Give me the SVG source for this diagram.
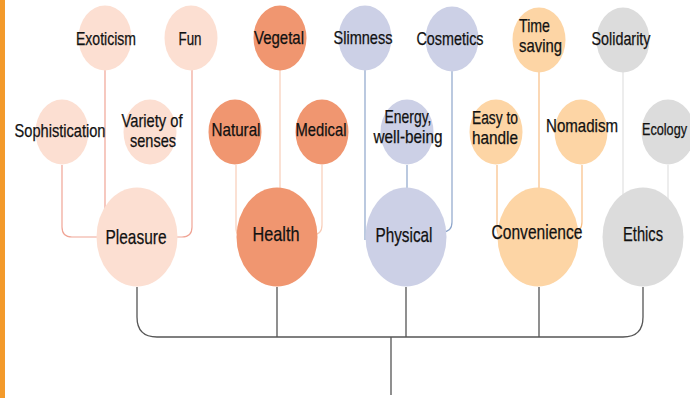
<svg xmlns="http://www.w3.org/2000/svg" width="690" height="398" viewBox="0 0 690 398">
<style>
text{font-family:"Liberation Sans",Arial,sans-serif;fill:#111;text-anchor:middle;stroke:#111;stroke-width:0.25}
.s{font-size:18.5px}
.b{font-size:21px}
.pl{fill:#fcdfd2}
.he{fill:#f09670}
.ph{fill:#ccd0e6}
.co{fill:#fdd5a5}
.et{fill:#dcdcdc}
.c{fill:none;stroke-width:1.2}
.cpl{stroke:#f0a596}
.che{stroke:#f8cdb8}
.cph{stroke:#8ea6cb}
.cco{stroke:#f8bf85}
.cet{stroke:#e2e2e2}
.tree{fill:none;stroke:#555;stroke-width:1.3}
</style>
<rect x="0" y="0" width="690" height="398" fill="#fff"/>
<rect x="0" y="0" width="5" height="398" fill="#f39a2b"/>
<g id="connectors">
<path class="tree" d="M137,287 V317 Q137,337 157,337 H623 Q643,337 643,317 V287 M277,287 V337 M406,287 V337 M539,287 V337 M391,337 V395"/>
<path class="c cpl" d="M62,165 V227 Q62,237 72,237 H110 M105,70 V210 M192,70 V227 Q192,237 182,237 H165"/>
<path class="c che" d="M236,165 V228 Q236,238 246,238 H260 M280,70 V200 M322,165 V225 Q322,235 312,235 H300"/>
<path class="c cph" d="M365,70 V240 M407,165 V200 M452,70 V222 Q452,232 442,232 H430"/>
<path class="c cco" d="M497,165 V228 Q497,238 507,238 H520 M539,72 V200 M582,165 V222 Q582,232 572,232 H560"/>
<path class="c cet" d="M623,72 V200 M668,165 V200"/>
</g>
<g id="pleasure"><ellipse class="pl" cx="137" cy="237" rx="40.5" ry="49.5"/><text class="b" x="136" y="244" textLength="61" lengthAdjust="spacingAndGlyphs">Pleasure</text></g>
<g id="health"><ellipse class="he" cx="277" cy="237" rx="40.5" ry="49.5"/><text class="b" x="276" y="241" textLength="47" lengthAdjust="spacingAndGlyphs">Health</text></g>
<g id="physical"><ellipse class="ph" cx="406" cy="237" rx="40.5" ry="49.5"/><text class="b" x="404" y="242" textLength="57" lengthAdjust="spacingAndGlyphs">Physical</text></g>
<g id="convenience"><ellipse class="co" cx="538" cy="237" rx="40.5" ry="49.5"/><text class="b" x="537" y="239" textLength="91" lengthAdjust="spacingAndGlyphs">Convenience</text></g>
<g id="ethics"><ellipse class="et" cx="643" cy="237" rx="40.5" ry="49.5"/><text class="b" x="643" y="241" textLength="40" lengthAdjust="spacingAndGlyphs">Ethics</text></g>
<g id="exoticism"><ellipse class="pl" cx="105" cy="38" rx="26.5" ry="32.5"/><text class="s" x="106" y="45" textLength="60" lengthAdjust="spacingAndGlyphs">Exoticism</text></g>
<g id="fun"><ellipse class="pl" cx="191" cy="38" rx="26.5" ry="32.5"/><text class="s" x="190" y="45" textLength="23" lengthAdjust="spacingAndGlyphs">Fun</text></g>
<g id="vegetal"><ellipse class="he" cx="280" cy="38" rx="26.5" ry="32.5"/><text class="s" x="279" y="44" textLength="50" lengthAdjust="spacingAndGlyphs">Vegetal</text></g>
<g id="slimness"><ellipse class="ph" cx="365" cy="38" rx="26.5" ry="32.5"/><text class="s" x="363" y="44" textLength="59" lengthAdjust="spacingAndGlyphs">Slimness</text></g>
<g id="cosmetics"><ellipse class="ph" cx="452" cy="39" rx="26.5" ry="32.5"/><text class="s" x="450" y="45" textLength="67" lengthAdjust="spacingAndGlyphs">Cosmetics</text></g>
<g id="timesaving"><ellipse class="co" cx="539" cy="40" rx="26.5" ry="32.5"/><text class="s" x="519" y="32" style="text-anchor:start" textLength="31" lengthAdjust="spacingAndGlyphs">Time</text><text class="s" x="519" y="52" style="text-anchor:start" textLength="43" lengthAdjust="spacingAndGlyphs">saving</text></g>
<g id="solidarity"><ellipse class="et" cx="623" cy="40" rx="26.5" ry="32.5"/><text class="s" x="621" y="45" textLength="59" lengthAdjust="spacingAndGlyphs">Solidarity</text></g>
<g id="sophistication"><ellipse class="pl" cx="62" cy="132" rx="26.5" ry="32.5"/><text class="s" x="60" y="137" textLength="91" lengthAdjust="spacingAndGlyphs">Sophistication</text></g>
<g id="variety"><ellipse class="pl" cx="150" cy="132" rx="26.5" ry="32.5"/><text class="s" x="152" y="127" textLength="61" lengthAdjust="spacingAndGlyphs">Variety of</text><text class="s" x="153" y="147" textLength="46" lengthAdjust="spacingAndGlyphs">senses</text></g>
<g id="natural"><ellipse class="he" cx="235" cy="132" rx="26.5" ry="32.5"/><text class="s" x="236" y="136" textLength="49" lengthAdjust="spacingAndGlyphs">Natural</text></g>
<g id="medical"><ellipse class="he" cx="322" cy="132" rx="26.5" ry="32.5"/><text class="s" x="321" y="136" textLength="51" lengthAdjust="spacingAndGlyphs">Medical</text></g>
<g id="energy"><ellipse class="ph" cx="407" cy="132" rx="26.5" ry="32.5"/><text class="s" x="408" y="123" textLength="47" lengthAdjust="spacingAndGlyphs">Energy,</text><text class="s" x="408" y="143" textLength="69" lengthAdjust="spacingAndGlyphs">well-being</text></g>
<g id="easy"><ellipse class="co" cx="496" cy="132" rx="26.5" ry="32.5"/><text class="s" x="495" y="124" textLength="46" lengthAdjust="spacingAndGlyphs">Easy to</text><text class="s" x="495" y="144" textLength="46" lengthAdjust="spacingAndGlyphs">handle</text></g>
<g id="nomadism"><ellipse class="co" cx="581" cy="132" rx="26.5" ry="32.5"/><text class="s" x="582" y="132" textLength="72" lengthAdjust="spacingAndGlyphs">Nomadism</text></g>
<g id="ecology"><ellipse class="et" cx="668" cy="132" rx="26.5" ry="32.5"/><text x="687" y="135" style="text-anchor:end;font-size:16px" textLength="45" lengthAdjust="spacingAndGlyphs">Ecology</text></g>
</svg>
